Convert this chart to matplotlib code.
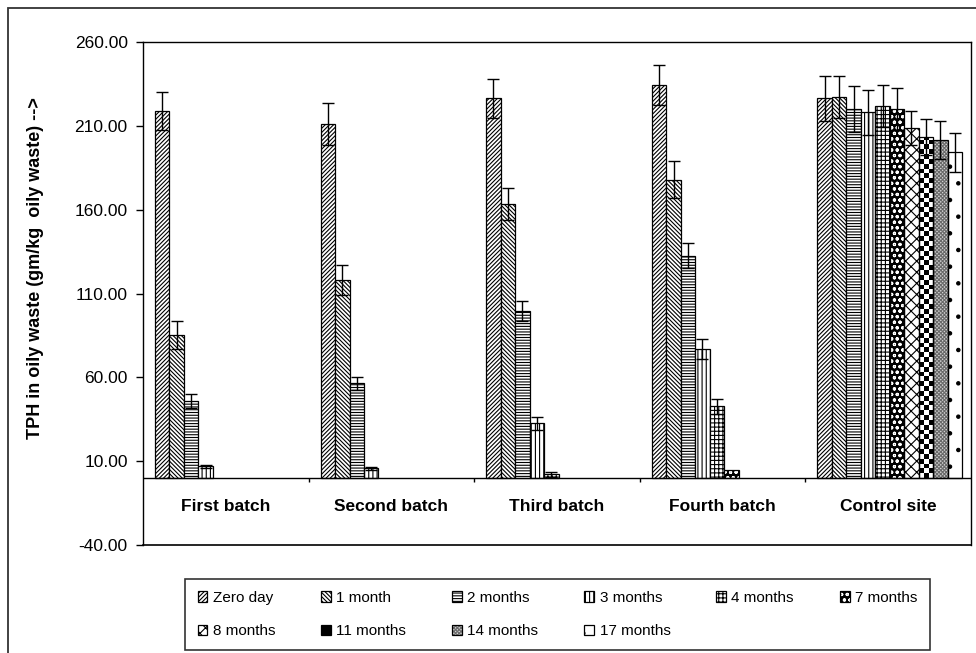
import numpy as np
import matplotlib
matplotlib.use("Agg")
import matplotlib.pyplot as plt
from matplotlib.patches import Rectangle, Patch

plt.rcParams['font.family'] = ['Liberation Sans', 'DejaVu Sans']
plt.rcParams['hatch.linewidth'] = 0.8

# ---- data -------------------------------------------------------------
categories = ["First batch", "Second batch", "Third batch", "Fourth batch", "Control site"]
series = ["Zero day", "1 month", "2 months", "3 months", "4 months",
          "7 months", "8 months", "11 months", "14 months", "17 months"]

tph_zero_day = [218.8, 210.9, 226.4, 234.5, 226.4]
tph_1_month = [85.2, 118.2, 163.4, 177.9, 227.4]
tph_2_months = [46.0, 56.4, 99.7, 132.5, 220.0]
tph_3_months = [6.9, 5.8, 32.5, 76.8, 218.0]
tph_4_months = [0.0, 0.0, 2.3, 42.7, 222.0]
tph_7_months = [0.0, 0.0, 0.0, 4.8, 220.0]
tph_8_months = [0.0, 0.0, 0.0, 0.0, 208.7]
tph_11_months = [0.0, 0.0, 0.0, 0.0, 203.5]
tph_14_months = [0.0, 0.0, 0.0, 0.0, 201.5]
tph_17_months = [0.0, 0.0, 0.0, 0.0, 194.2]

err_zero_day = [11.5, 12.5, 11.5, 12.0, 13.5]
err_1_month = [8.5, 9.0, 9.5, 11.0, 12.6]
err_2_months = [4.0, 4.0, 6.0, 7.5, 13.6]
err_3_months = [1.0, 1.0, 4.0, 6.0, 13.4]
err_4_months = [0.0, 0.0, 1.5, 4.3, 12.5]
err_7_months = [0.0, 0.0, 0.0, 0.0, 12.4]
err_8_months = [0.0, 0.0, 0.0, 0.0, 10.3]
err_11_months = [0.0, 0.0, 0.0, 0.0, 10.7]
err_14_months = [0.0, 0.0, 0.0, 0.0, 11.4]
err_17_months = [0.0, 0.0, 0.0, 0.0, 11.5]

y_ticks = [-40, 10, 60, 110, 160, 210, 260]

values = [tph_zero_day, tph_1_month, tph_2_months, tph_3_months, tph_4_months,
          tph_7_months, tph_8_months, tph_11_months, tph_14_months, tph_17_months]
errors = [err_zero_day, err_1_month, err_2_months, err_3_months, err_4_months,
          err_7_months, err_8_months, err_11_months, err_14_months, err_17_months]

# ---- bar styles (monochrome patterns) ---------------------------------
# "layered" styles draw the fill + hatch first, then a black outline on top,
# so that the hatch colour can differ from the outline colour.
styles = [
    dict(facecolor="white", hatch="////////"),
    dict(facecolor="white", hatch="\\" * 8),
    dict(facecolor="white", hatch="------"),
    dict(facecolor="white", hatch="||||"),
    dict(facecolor="white", hatch="++++"),
    dict(kind="layered", facecolor="black", hatchcolor="white", hatch="ooo"),
    dict(facecolor="white", hatch="xxx"),
    dict(kind="checker"),
    dict(kind="layered", facecolor="#d0d0d0", hatchcolor="#6a6a6a", hatch="x" * 9),
    dict(facecolor="white", hatch="."),
]

fig = plt.figure(figsize=(9.76, 6.53), dpi=100)
ax = fig.add_axes([143 / 976, 108 / 653, 828 / 976, 503 / 653])
ax.set_xlim(-0.5, len(categories) - 0.5)
ax.set_ylim(y_ticks[0], y_ticks[-1])

bar_w = 0.0874
lead = 0.0725
x_base = np.arange(len(categories)) - 0.5 + lead
edge_lw = 0.9

legend_handles = []
for j, (name, vals, errs, st) in enumerate(zip(series, values, errors, styles)):
    vals = np.asarray(vals)
    errs = np.asarray(errs)
    xs = x_base + (j + 0.5) * bar_w
    keep = vals > 0
    xk, vk, ek = xs[keep], vals[keep], errs[keep]
    kind = st.get("kind")
    if kind == "layered":
        ax.bar(xk, vk, bar_w, facecolor=st["facecolor"], edgecolor=st["hatchcolor"],
               hatch=st["hatch"], linewidth=0, zorder=1)
        ax.bar(xk, vk, bar_w, fill=False, edgecolor="black",
               linewidth=edge_lw, zorder=1.1)
        h = (Patch(facecolor=st["facecolor"], edgecolor=st["hatchcolor"],
                   hatch=st["hatch"], linewidth=0),
             Patch(fill=False, edgecolor="black", linewidth=edge_lw))
    elif kind == "checker":
        bars = ax.bar(xk, vk, bar_w, facecolor="none", edgecolor="black",
                      linewidth=edge_lw, zorder=1.1)
        fig.canvas.draw()
        for rect in bars:
            x0, y0 = rect.get_x(), rect.get_y()
            x1, y1 = x0 + rect.get_width(), y0 + rect.get_height()
            (px0, py0), (px1, py1) = ax.transData.transform([(x0, y0), (x1, y1)])
            cell = (px1 - px0) / 3.0
            nrows = int(np.ceil((py1 - py0) / cell)) + 1
            board = (np.indices((nrows, 3)).sum(axis=0) % 2).astype(float)
            top = ax.transData.inverted().transform((px0, py0 + nrows * cell))[1]
            im = ax.imshow(board, cmap="gray_r", vmin=0, vmax=1,
                           extent=(x0, x1, y0, top), origin="lower",
                           interpolation="nearest", aspect="auto", zorder=0.9)
            im.set_clip_path(rect)
        h = Patch(facecolor="black", edgecolor="black", linewidth=edge_lw)
    else:
        ax.bar(xk, vk, bar_w, facecolor=st["facecolor"], edgecolor="black",
               hatch=st["hatch"], linewidth=edge_lw, zorder=1)
        h = Patch(facecolor=st["facecolor"], edgecolor="black",
                  hatch=st["hatch"], linewidth=edge_lw)
    legend_handles.append(h)
    has_err = ek > 0
    if has_err.any():
        ax.errorbar(xk[has_err], vk[has_err], yerr=ek[has_err], fmt="none",
                    ecolor="black", elinewidth=1.0, capsize=4, capthick=1.0,
                    zorder=3)

ax.set_xlim(-0.5, len(categories) - 0.5)
ax.set_ylim(y_ticks[0], y_ticks[-1])

# ---- axes styling -----------------------------------------------------
for sp in ax.spines.values():
    sp.set_linewidth(1.0)
    sp.set_color("black")

ax.set_yticks(y_ticks)
ax.set_yticklabels([f"{t:.2f}" for t in y_ticks], fontsize=12.5)
ax.tick_params(axis="y", direction="out", length=5, width=1.0, pad=6)

# category axis sits at y = 0, with boundary ticks pointing down
ax.spines["bottom"].set_visible(False)
ax.axhline(0, color="black", linewidth=1.0, zorder=2)
ax.axhline(y_ticks[0], color="black", linewidth=1.2, clip_on=False, zorder=2)
ax.set_xticks([])
ymin, ymax = ax.get_ylim()
tick_len = 4 / (503 / (ymax - ymin))
for b in np.arange(0.5, len(categories) - 0.5, 1.0):
    ax.plot([b, b], [0, -tick_len], color="black", linewidth=1.0,
            solid_capstyle="butt", zorder=2)
for i, cat in enumerate(categories):
    ax.text(i, -17, cat, ha="center", va="center", fontsize=12.5,
            fontweight="bold")

ax.set_ylabel("TPH in oily waste (gm/kg  oily waste) -->", fontsize=13,
              fontweight="bold")
ax.yaxis.set_label_coords(-0.1196, 0.55)

# ---- legend -----------------------------------------------------------
order = [0, 6, 1, 7, 2, 8, 3, 9, 4, 5]
leg = fig.legend([legend_handles[k] for k in order], [series[k] for k in order],
                 loc="center", bbox_to_anchor=(557.5 / 976, 1 - 614.5 / 653),
                 ncol=6, fontsize=11, frameon=True, fancybox=False,
                 edgecolor="black", handlelength=0.65, handleheight=0.65,
                 handletextpad=0.35, columnspacing=3.0, labelspacing=1.25,
                 borderpad=0.8, borderaxespad=0)
leg.get_frame().set_linewidth(1.2)

# outer chart frame
fig.add_artist(Rectangle((8 / 976, -0.05), 1.1, 1 - 8 / 653 + 0.05,
                         transform=fig.transFigure, fill=False,
                         edgecolor="#333333", linewidth=1.3))

fig.savefig("out.png", dpi=100)
